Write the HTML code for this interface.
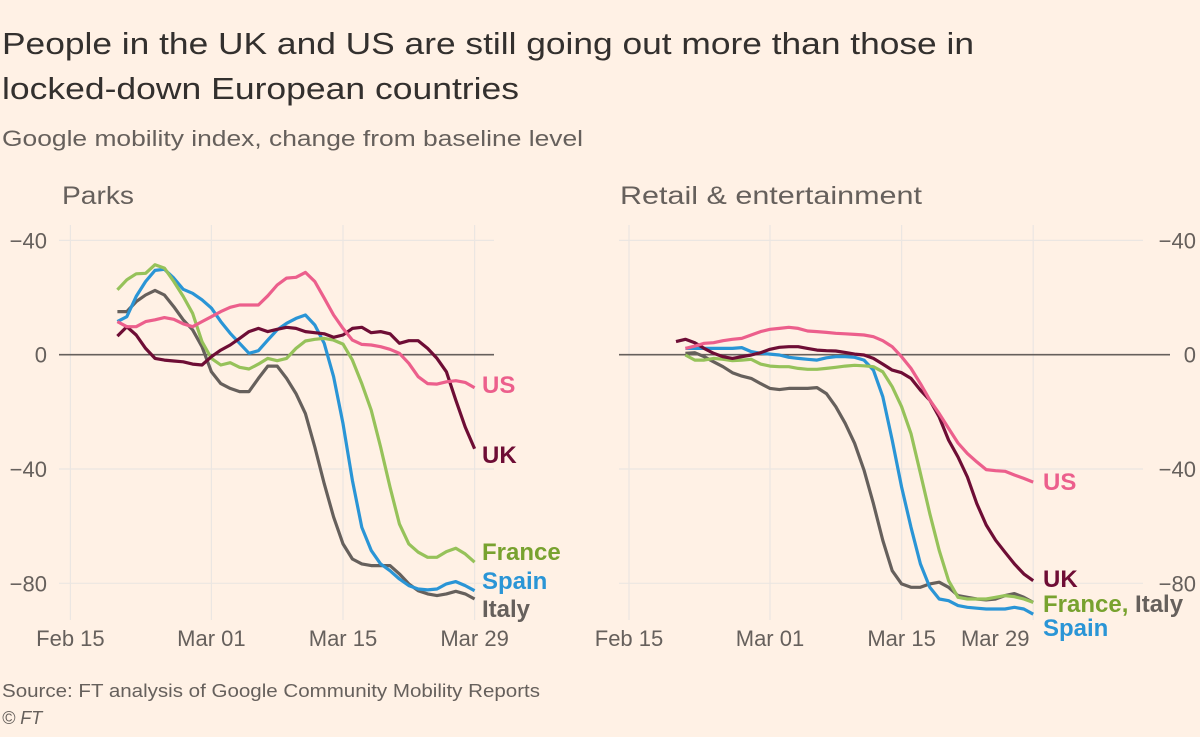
<!DOCTYPE html>
<html><head><meta charset="utf-8">
<style>
body{margin:0;background:#fff1e5;width:1200px;height:732px;overflow:hidden;font-family:"Liberation Sans",sans-serif;}
svg text{font-family:"Liberation Sans",sans-serif;}
</style></head>
<body>
<svg id="chart" width="1200" height="732" viewBox="0 0 1200 732">
<rect width="1200" height="732" fill="#fff1e5"/>
<text x="2" y="54" font-size="31" fill="#33302e" textLength="972" lengthAdjust="spacingAndGlyphs">People in the UK and US are still going out more than those in</text>
<text x="2" y="99" font-size="31" fill="#33302e" textLength="517" lengthAdjust="spacingAndGlyphs">locked-down European countries</text>
<text x="2" y="146" font-size="22" fill="#66605c" textLength="581" lengthAdjust="spacingAndGlyphs">Google mobility index, change from baseline level</text>
<text x="62" y="204" font-size="25" fill="#66605c" textLength="72" lengthAdjust="spacingAndGlyphs">Parks</text>
<text x="620" y="204" font-size="25" fill="#66605c" textLength="302" lengthAdjust="spacingAndGlyphs">Retail &amp; entertainment</text>
<g id="left"></g>
<g id="right"></g>
<text x="2" y="697" font-size="18" fill="#66605c" textLength="538" lengthAdjust="spacingAndGlyphs">Source: FT analysis of Google Community Mobility Reports</text>
<text x="2" y="724" font-size="18" fill="#66605c" font-style="italic">© FT</text>
</svg>
<script>
const yTicks=[40,0,-40,-80];
const yTickLabels=["−40","0","−40","−80"];
const xTickDays=[0,15,29,43];
const xTickLabels=["Feb 15","Mar 01","Mar 15","Mar 29"];
const startDay=5; // Feb 20
const parksUS=[11.6,9.8,9.8,11.6,12.2,13,12.4,10.8,9.8,11.6,13.3,15.1,16.6,17.4,17.4,17.4,20.6,24.4,26.8,27.1,28.8,25.6,19.8,13.9,9.2,5.1,3.6,3.4,2.8,1.9,0.5,-3,-7.7,-10.1,-10.3,-9.5,-9.1,-9.7,-11.6];
const parksUK=[6.5,9.8,6.9,2.2,-1.3,-1.9,-2.2,-2.5,-3.3,-3.6,-0.7,1.6,3.4,5.7,8.1,9.2,8.1,8.9,9.6,9.2,8.1,7.7,7.3,6.1,6.9,9.2,9.6,7.7,8.1,7.3,4,4.9,4.9,2.2,-1.3,-6,-15.9,-25.3,-32.9];
const parksFrance=[22.7,26.2,28.3,28.5,31.5,30.3,25.6,20.4,14.5,4.6,-1.3,-3.6,-2.8,-4.4,-5,-3.3,-1.3,-2.1,-1.3,2.2,4.8,5.4,5.7,5.1,3.7,-1.9,-10.1,-19.4,-32.3,-46.3,-59.2,-66.2,-69.1,-70.9,-70.9,-68.9,-67.7,-69.7,-72.6];
const parksSpain=[11.6,13.3,20.4,25.6,29.5,29.9,26.8,22.9,21.5,19.2,16.3,11.6,7.5,4,0.5,1.4,5.1,8.7,11,12.7,13.9,10.4,4,-7.7,-24.1,-44,-60.4,-68.5,-73.2,-75.6,-78.5,-80.8,-82,-82.3,-82,-80.2,-79.4,-80.8,-82.6];
const parksItaly=[15.1,15.1,18.6,20.9,22.5,20.9,16.8,12.2,8.7,2.8,-6,-10.1,-11.8,-12.9,-12.9,-8.3,-4,-4,-8.3,-13.6,-20.6,-32.3,-45.1,-56.8,-66.2,-71.5,-73.2,-73.8,-73.8,-73.8,-76.7,-80.2,-82.6,-83.7,-84.3,-83.7,-82.8,-83.7,-85.5];
const retailUS=[null,2.2,3,4,4.2,4.9,5.4,5.7,6.9,8.1,8.9,9.2,9.6,9.2,8.3,8.1,7.8,7.5,7.3,7.1,6.9,6.3,4.9,2.8,-0.7,-4.8,-10.1,-15.9,-20.6,-25.8,-30.9,-34.6,-37.5,-40.2,-40.6,-40.8,-42.1,-43.3,-44.6];
const retailUK=[4.6,5.4,4.2,2.2,0.5,-0.7,-1.3,-0.7,-0.1,0.7,1.9,2.6,2.8,2.8,2.2,1.6,1.4,1.3,0.8,0.2,-0.1,-1.3,-3.3,-5.4,-6.3,-8.3,-12.4,-15.9,-21.8,-29.9,-35.8,-42.8,-52.1,-59.6,-64.9,-69.1,-73.2,-76.7,-79.1];
const retailFrance=[null,-0.1,-1.9,-1.9,-1.3,-1.6,-2.1,-1.9,-1.6,-3.3,-4,-4.2,-4.2,-4.8,-5.1,-5.1,-4.8,-4.4,-4,-3.7,-3.9,-4.2,-6,-11.2,-18.2,-27.6,-41.5,-55.6,-68.5,-79.1,-84.9,-85.5,-85.5,-85.5,-84.9,-84.3,-84.7,-85.5,-86.7];
const retailSpain=[null,2.2,2.2,2.2,2.2,2.2,2.2,2.5,1.1,0.5,0.2,-0.1,-0.9,-1.3,-1.6,-1.9,-1.1,-0.7,-0.7,-0.9,-1.9,-5.4,-14.7,-29.9,-46.3,-60.4,-73.2,-81.4,-85.5,-86.1,-87.8,-88.4,-88.7,-89,-89,-89,-88.4,-89,-90.8];
const retailItaly=[null,0.5,0.7,-0.7,-2.5,-4.2,-6.3,-7.5,-8.3,-10.1,-11.8,-12.2,-11.8,-11.8,-11.8,-11.5,-13.6,-18.2,-24,-31,-40.4,-52.1,-65,-75.6,-80.2,-81.4,-81.4,-80.2,-79.6,-81.4,-84.3,-84.9,-85.5,-85.8,-85.5,-84.3,-83.6,-84.9,-86.7];

const NS="http://www.w3.org/2000/svg";
function mk(tag,attrs,parent){const e=document.createElementNS(NS,tag);for(const k in attrs)e.setAttribute(k,attrs[k]);parent.appendChild(e);return e;}
const yScale=v=>354.7-v*(114.3/40);

function panel(gid,x0,gridL,gridR,zeroR,series,labels,yLabelX,yAnchor,xLabelShift){
  const g=document.getElementById(gid);
  const xScale=d=>x0+d*9.4;
  yTicks.forEach((t,i)=>{
    if(t!==0){const l=mk('line',{x1:gridL,x2:gridR,y1:yScale(t),y2:yScale(t),stroke:'#ebe6e2','stroke-width':1.2},g);
    
    }
    const tx=mk('text',{x:yLabelX,y:yScale(t)+8,'font-size':22,fill:'#66605c','text-anchor':yAnchor},g);
    tx.textContent=yTickLabels[i];
    
    
  });
  xTickDays.forEach((d,i)=>{
    const l=mk('line',{x1:xScale(d),x2:xScale(d),y1:225,y2:620,stroke:'#ebe6e2','stroke-width':1.2},g);
    
    
    const tx=mk('text',{x:xScale(d)+(i===3?xLabelShift:0),y:646,'font-size':22,fill:'#66605c','text-anchor':'middle'},g);
    tx.textContent=xTickLabels[i];
    
    
  });
  const z=mk('line',{x1:gridL,x2:zeroR,y1:yScale(0),y2:yScale(0),stroke:'#66605c','stroke-width':1.6},g);
  
  
  series.forEach(s=>{
    let d='';let pen=false;
    s.vals.forEach((v,i)=>{if(v===null){pen=false;return;}
      d+=(pen?'L':'M')+xScale(startDay+i).toFixed(1)+','+yScale(v).toFixed(1);pen=true;});
    const p=mk('path',{d:d,fill:'none',stroke:s.color,'stroke-width':3.2,'stroke-linejoin':'round'},g);
    
    
  });
  labels.forEach(lb=>{
    const t=mk('text',{x:lb.x,y:lb.y+8,'font-size':24,'font-weight':'bold',fill:lb.color},g);
    
    
    lb.parts.forEach(pt=>{const ts=mk('tspan',{fill:pt[1]},t);ts.textContent=pt[0];});
  });
}
const C={us:'#ec5f8c',uk:'#6e0d35',fr:'#96c25a',frT:'#78a22f',es:'#2a95d6',it:'#66605c'};
panel('left',70.4,59,494,494,[
 {name:'parks-italy',vals:parksItaly,color:C.it},
 {name:'parks-spain',vals:parksSpain,color:C.es},
 {name:'parks-france',vals:parksFrance,color:C.fr},
 {name:'parks-uk',vals:parksUK,color:C.uk},
 {name:'parks-us',vals:parksUS,color:C.us}],
 [{name:'us-label',x:482,y:385,color:C.us,parts:[['US',C.us]]},
  {name:'uk-label',x:482,y:455,color:C.uk,parts:[['UK',C.uk]]},
  {name:'france-label',x:482,y:552,color:C.frT,parts:[['France',C.frT]]},
  {name:'spain-label',x:482,y:581,color:C.es,parts:[['Spain',C.es]]},
  {name:'italy-label',x:482,y:609,color:C.it,parts:[['Italy',C.it]]}],
 47,'end',0);
panel('right',629,619,1143,1170,[
 {name:'retail-italy',vals:retailItaly,color:C.it},
 {name:'retail-spain',vals:retailSpain,color:C.es},
 {name:'retail-france',vals:retailFrance,color:C.fr},
 {name:'retail-uk',vals:retailUK,color:C.uk},
 {name:'retail-us',vals:retailUS,color:C.us}],
 [{name:'us-label',x:1043,y:482,color:C.us,parts:[['US',C.us]]},
  {name:'uk-label',x:1043,y:579,color:C.uk,parts:[['UK',C.uk]]},
  {name:'france-italy-label',x:1043,y:604,color:C.frT,parts:[['France, ',C.frT],['Italy',C.it]]},
  {name:'spain-label',x:1043,y:628,color:C.es,parts:[['Spain',C.es]]}],
 1196,'end',-38);
</script>
</body></html>
